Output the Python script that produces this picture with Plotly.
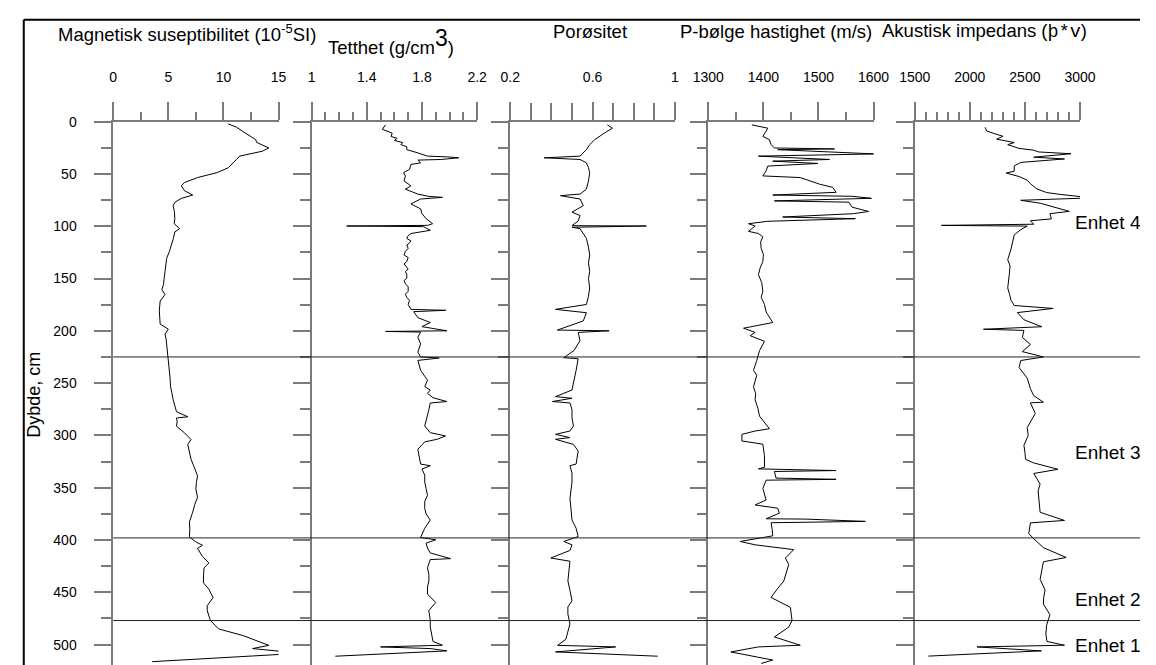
import plotly.graph_objects as go

W, H = 1156, 665

# ---------------- data (depth in cm, value) ----------------
mag_depth = [2.2, 5.3, 9.4, 13, 17.3, 19.8, 25.2, 28.3, 33, 36.2, 44.1, 48.8, 53.5, 58.2, 61.4, 66.1, 70.2, 73.4,
             77.1, 80.3, 86, 92.9, 97.6, 102.3, 105.5, 112, 118, 124, 130.7, 137, 143.3, 150, 155.9, 160.6, 165.3,
             171.6, 176, 181, 187, 193.6, 198.4, 203.1, 208, 212.5, 218, 225.1, 234, 244, 253, 260, 266, 272,
             277.3, 282.2, 283.4, 287, 291.2, 297.6, 303.9, 308.6, 315, 322.8, 329, 335.6, 338.7, 345, 351.4,
             359.2, 366, 373.4, 382.9, 390, 397, 401.8, 405, 408, 415.6, 422, 426.6, 433, 440.8, 447.1, 455,
             462.8, 467.6, 477, 485, 491.3, 500.7, 503.8, 507, 509.2, 516.3]
mag_val = [10.44, 11.18, 11.76, 12.3, 12.94, 13.0, 14.12, 13.53, 11.47, 11.18, 10.44, 9.41, 7.65, 6.47, 6.18, 6.47,
           7.21, 6.18, 5.59, 5.44, 5.55, 5.59, 5.53, 6.03, 5.59, 5.45, 5.29, 5.1, 4.85, 4.8, 4.7, 4.62, 4.56, 4.41,
           4.7, 4.26, 4.2, 4.18, 4.22, 4.26, 5.0, 4.7, 4.8, 4.85, 4.9, 5.0, 5.05, 5.15, 5.2, 5.3, 5.44, 5.6,
           5.74, 6.76, 5.74, 5.8, 5.74, 6.47, 7.06, 6.76, 6.9, 7.06, 7.3, 7.5, 7.65, 7.55, 7.5, 7.65, 7.4, 7.21,
           6.91, 6.95, 6.91, 7.5, 8.09, 7.65, 8.09, 8.68, 8.24, 8.2, 8.18, 8.68, 9.06, 8.53, 8.53, 8.82, 9.56,
           11.76, 14.12, 12.65, 15.74, 15.44, 3.53]

den_depth = [3.1, 7.3, 11, 14.2, 16, 18, 20, 22, 24, 26.8, 29.9, 33, 33.7, 34.6, 36.2, 36.8, 39.4, 41, 45.7, 48.8,
             52, 56.7, 61.4, 64.6, 69.3, 71.5, 72.4, 74, 78.7, 83.4, 88, 92.8, 97.6, 99.2, 99.8, 100.4, 103.9, 107,
             109, 111.7, 114, 116, 118, 121.2, 124, 127.5, 130, 133.8, 136, 138, 141, 143.3, 146, 149.6, 152, 155,
             158, 162.2, 165, 168, 171, 174.8, 179.5, 180.4, 181.7, 187.4,
             192.1, 196, 200, 200.6, 201.2, 206.2, 212.5, 220.4, 225, 226, 228.3, 237.8, 247.2, 253.4, 256.6, 259.7,
             264, 267.6, 269, 275.3, 281.6, 291, 297.4, 300.5, 303.7, 306.2, 313.2, 319.5, 327.4, 329, 332.1, 338,
             344.7, 351, 357.3, 363, 369.9, 375, 380.9, 388.8, 397.6, 399.8, 403, 407.7, 412.4, 417.8, 418.7,
             426.6, 433, 439.2, 445, 451.8, 459.7, 467.5, 477, 483, 489.6, 497, 500.6, 502.2, 503.8, 506, 511.1]
den_val = [1.536, 1.513, 1.584, 1.576, 1.62, 1.60, 1.66, 1.647, 1.69, 1.69, 1.77, 1.84, 1.983, 2.066, 1.94, 1.77,
           1.79, 1.72, 1.71, 1.666, 1.68, 1.67, 1.72, 1.68, 1.77, 1.85, 1.948, 1.79, 1.72, 1.79, 1.80, 1.83, 1.877,
           1.84, 1.254, 1.81, 1.86, 1.72,
           1.70, 1.69, 1.72, 1.71, 1.69, 1.70, 1.68, 1.67, 1.70, 1.69, 1.67, 1.68, 1.70, 1.68, 1.69, 1.69, 1.67,
           1.68, 1.70, 1.70, 1.68, 1.69, 1.71, 1.70,
           1.72, 1.972, 1.74, 1.77, 1.86, 1.80, 1.98, 1.536, 1.79, 1.77, 1.79, 1.77, 1.79, 1.925, 1.77, 1.79, 1.84,
           1.82, 1.86, 1.84, 1.88, 1.98, 1.86, 1.85, 1.84, 1.82, 1.86, 1.97, 1.91, 1.82, 1.77, 1.78, 1.79, 1.86,
           1.80, 1.82, 1.82, 1.83, 1.84, 1.82, 1.82, 1.83, 1.86, 1.82, 1.79, 1.90, 1.83, 1.84, 1.86, 2.007, 1.86,
           1.84, 1.85, 1.85, 1.84, 1.84, 1.90, 1.85, 1.86, 1.86, 1.87, 1.88, 1.948, 1.50, 1.86, 1.98, 1.172]

por_depth = [3.1, 6.3, 11, 14.2, 17.3, 22, 26.8, 33, 34.6, 36.2, 39.4, 44, 48.8, 56.7, 64.6, 69.3, 70.8, 74, 80.3,
             86.6, 89.8, 95, 99.5, 99.8, 101, 102.3, 111.7, 120, 127.5, 135, 143.3, 150, 159, 167, 174.8, 179.5,
             182.7, 190.5, 199.3, 200, 201.5, 209.4, 218.8, 225.7, 226.7, 237.8, 247, 256.6, 262.9, 264.5, 267.6,
             269, 275.3, 283, 291, 295.8, 299, 302.1, 303.7, 308.6, 314.9, 321, 327.4, 329, 336, 344.7, 352, 360.4,
             370, 380.9, 388.8, 396.7, 401.4, 404.6, 410, 417.2, 420.3, 430, 439.2, 448, 458.1, 464, 470.7, 480.2,
             489.6, 495, 500.7, 502.2, 507, 511.1]
por_val = [0.672, 0.696, 0.657, 0.633, 0.61, 0.586, 0.57, 0.539, 0.365, 0.539, 0.57, 0.58, 0.586, 0.58, 0.57,
           0.539, 0.444, 0.539, 0.555, 0.50, 0.539, 0.53, 0.50, 0.861, 0.50, 0.539, 0.57, 0.58, 0.586, 0.58, 0.586,
           0.58, 0.586, 0.58, 0.57, 0.42, 0.57, 0.555, 0.429, 0.68, 0.53, 0.539, 0.51, 0.46, 0.53, 0.52, 0.51, 0.50,
           0.42, 0.50, 0.405, 0.49, 0.50, 0.50, 0.507, 0.49, 0.42, 0.49, 0.42, 0.507, 0.53, 0.525, 0.52, 0.49,
           0.50, 0.50, 0.495, 0.49, 0.495, 0.50, 0.52, 0.53, 0.46, 0.50, 0.49, 0.397, 0.49, 0.485, 0.48, 0.49,
           0.50, 0.48, 0.48, 0.49, 0.475, 0.47, 0.43, 0.712, 0.42, 0.916]

vp_depth = [3.1, 6.3, 10, 14.2, 17.3, 22, 25.2, 26.1, 26.8, 30.9, 33, 36.2, 37.8, 40, 42.5, 47, 51.9, 53.5, 59.8,
            62.9, 67.6, 70.2, 71.4, 73.3, 75.8, 77, 81.8, 85.9, 88, 91.2, 92.8, 95.3, 97.6, 99.8, 104.9, 107, 110.2,
            115, 121.2, 127, 133.8, 140, 146.4, 154, 162.2, 168, 174.8, 182, 192.1, 197.5, 201.5, 204.7, 210, 218.9,
            228.3, 237.8, 242.5, 253.5, 260, 266, 274, 281.6, 293.6, 295.8, 299, 305.3, 308.4, 319.5, 330.5, 332,
            333.6, 334.5, 340.8, 342, 342.8, 350.7, 361.7, 366.5, 369.6, 374.3, 379.7, 380, 382.2, 383.5, 390, 396,
            401.4, 404.6, 409.2, 417.2, 423.5, 431, 439.2, 447, 454.9, 464.4, 477, 483.3, 492.7, 500.6, 502.2, 507,
            511.7, 514.8, 518]
vp_val = [1379, 1408, 1404, 1399, 1411, 1414, 1420, 1529, 1426, 1602, 1391, 1520, 1417, 1499, 1408, 1405, 1399,
          1467, 1502, 1526, 1532, 1417, 1561, 1596, 1420, 1555, 1561, 1591, 1564, 1435, 1567, 1408, 1373, 1385,
          1373, 1391, 1399, 1395, 1396, 1400, 1399, 1394, 1391, 1397, 1399, 1396, 1402, 1405, 1417, 1364, 1385,
          1376, 1402, 1393, 1388, 1382, 1388, 1382, 1386, 1385, 1390, 1393, 1411, 1385, 1361, 1361, 1399, 1402,
          1402, 1391, 1532, 1420, 1423, 1532, 1405, 1399, 1405, 1385, 1426, 1429, 1405, 1476, 1585, 1414, 1416,
          1417, 1358, 1385, 1455, 1440, 1446, 1442, 1437, 1425, 1414, 1449, 1452, 1446, 1420, 1467, 1391, 1341,
          1385, 1417, 1396]

imp_depth = [5.4, 9, 11.6, 14, 16.8, 20, 22, 25.6, 27.3, 29, 30.7, 34, 35.7, 39, 42.4, 47.4, 49.1, 52.5, 56, 59.4,
             64.4, 67.8, 69.5, 72.9, 75.2, 78, 85.8, 88, 93, 94.8, 98.1, 99.2, 99.9, 103.3, 108.3, 115, 121.8, 132,
             138, 145.5, 152, 159, 165, 170.8, 175.8, 178.6, 182.6, 189.4, 196.1, 198.5, 199.6, 206.3, 213.1, 219.9,
             225, 228.4, 235.1, 245.3, 255.4, 262, 268.2, 268.9, 279, 292.5, 300, 309.4, 316, 322.9, 326.3, 332.4,
             336.4, 346.5, 353, 360, 367, 373.5, 381.3, 383.6, 393.8, 398.8, 407.3, 416.7, 420.8, 429, 437.6,
             447.8, 455, 461.3, 471.4, 481.5, 490, 497, 500.6, 502.2, 506, 511]
imp_val = [2139, 2153, 2227, 2300, 2244, 2403, 2344, 2447, 2580, 2624, 2918, 2580, 2859, 2462, 2403, 2403, 2330,
           2447, 2521, 2550, 2609, 2697, 2815, 3109, 2462, 2638, 2903, 2727, 2741, 2550, 2580, 1742, 2521, 2462,
           2403, 2390, 2374, 2344, 2365, 2359, 2350, 2344, 2360, 2374, 2403, 2756, 2432, 2491, 2653, 2124, 2491,
           2477, 2550, 2477, 2668, 2462, 2447, 2521, 2550, 2580, 2668, 2550, 2594, 2521, 2530, 2491, 2500, 2506,
           2580, 2800, 2580, 2638, 2620, 2624, 2630, 2638, 2859, 2550, 2535, 2580, 2668, 2874, 2668, 2650, 2638,
           2683, 2670, 2668, 2727, 2697, 2690, 2700, 2859, 2065, 2650, 1624]

unit_bounds = [225, 398, 477]
unit_labels = ["Enhet 4", "Enhet 3", "Enhet 2", "Enhet 1"]
unit_label_depth = [96, 316, 457, 501]

titles = ["Magnetisk suseptibilitet (10<sup>-5</sup>SI)",
          "Tetthet (g/cm<sup><span style='font-size:23px'>3</span></sup>)",
          "Porøsitet",
          "P-bølge hastighet (m/s)",
          "Akustisk impedans (<span style='font-family:Liberation Mono'>þ*v</span>)"]

# ---------------- layout geometry (pixels) ----------------
top_px = 115
ymax = 519.5
panels = [
    dict(px=(100, 270), rng=[0, 15], tv=[0, 5, 10, 15], mtv=[2.5, 7.5, 12.5], mlen=8,
         d=mag_depth, v=mag_val, tx=176, ty=25),
    dict(px=(304, 474.3), rng=[1, 2.2], tv=[1, 1.4, 1.8, 2.2],
         mtv=[1.1, 1.2, 1.3, 1.5, 1.6, 1.7, 1.9, 2.0, 2.1], mlen=8, d=den_depth, v=den_val, tx=386, ty=34),
    dict(px=(508.3, 677.7), rng=[0.2, 1.0], tv=[0.2, 0.6, 1.0],
         mtv=[0.3, 0.4, 0.5, 0.7, 0.8, 0.9], mlen=17, d=por_depth, v=por_val, tx=590, ty=24),
    dict(px=(712, 882), rng=[1300, 1600], tv=[1300, 1400, 1500, 1600], mtv=[1350, 1450, 1550], mlen=8,
         d=vp_depth, v=vp_val, tx=782, ty=24),
    dict(px=(924.3, 1094.3), rng=[1500, 3000], tv=[1500, 2000, 2500, 3000],
         mtv=[1600, 1700, 1800, 1900, 2100, 2200, 2300, 2400, 2600, 2700, 2800, 2900], mlen=8,
         d=imp_depth, v=imp_val, tx=996, ty=24),
]

AX = "#7a7a7a"
FONT = "Liberation Sans, Arial, sans-serif"
fig = go.Figure()
layout = dict(width=W, height=H, margin=dict(l=0, r=0, t=0, b=0), paper_bgcolor="white",
              plot_bgcolor="white", showlegend=False, font=dict(family=FONT, color="black"))
ydom = [0, (H - top_px) / H]
annotations = []
for i, p in enumerate(panels):
    n = "" if i == 0 else str(i + 1)
    fig.add_trace(go.Scatter(x=p["v"], y=p["d"], mode="lines", line=dict(color="black", width=1),
                             xaxis="x" + n, yaxis="y" + n, hoverinfo="skip"))
    layout["xaxis" + n] = dict(domain=[p["px"][0] / W, p["px"][1] / W], range=p["rng"], side="top",
                               anchor="y" + n, showline=True, linecolor=AX, linewidth=1.5, showgrid=False,
                               zeroline=False, ticks="outside", ticklen=18, tickwidth=1.5, tickcolor=AX,
                               tickmode="array", tickvals=p["tv"], tickfont=dict(size=14, family=FONT),
                               ticklabelstandoff=14,
                               minor=dict(tickmode="array", tickvals=p["mtv"], ticks="outside",
                                          ticklen=p["mlen"], tickwidth=1.5, tickcolor=AX, showgrid=False))
    layout["yaxis" + n] = dict(domain=ydom, range=[ymax, 0], anchor="x" + n, showline=True, linecolor=AX,
                               linewidth=1.5, showgrid=False, zeroline=False, ticks="outside", ticklen=17,
                               tickwidth=1.5, tickcolor=AX, tickmode="linear", tick0=0, dtick=50,
                               showticklabels=(i == 0), tickfont=dict(size=14, family=FONT),
                               ticklabelstandoff=15,
                               minor=dict(tickmode="linear", tick0=25, dtick=50, ticks="outside", ticklen=10,
                                          tickwidth=1.5, tickcolor=AX, showgrid=False))
    annotations.append(dict(text=titles[i], x=p["tx"] / W, y=1 - p["ty"] / H, xref="paper", yref="paper",
                            showarrow=False, xanchor="center", yanchor="middle",
                            font=dict(size=18.5, family=FONT, color="black")))

for lab, dep in zip(unit_labels, unit_label_depth):
    annotations.append(dict(text=lab, x=1087 / W, y=dep, xref="paper", yref="y", showarrow=False,
                            xanchor="left", yanchor="middle", font=dict(size=19, family=FONT, color="black")))

annotations.append(dict(text="Dybde, cm", x=19 / W, y=1 - 391 / H, xref="paper", yref="paper",
                        showarrow=False, textangle=-90, xanchor="center", yanchor="middle",
                        font=dict(size=18, family=FONT, color="black")))

shapes = []
for b in unit_bounds:
    shapes.append(dict(type="line", xref="paper", yref="y", x0=100 / W, x1=1, y0=b, y1=b,
                       line=dict(color="#222222", width=1)))
# outer frame
shapes.append(dict(type="line", xref="paper", yref="paper", x0=8 / W, x1=1, y0=1 - 12 / H, y1=1 - 12 / H,
                   line=dict(color="black", width=2)))
shapes.append(dict(type="line", xref="paper", yref="paper", x0=8 / W, x1=8 / W, y0=0, y1=1 - 12 / H,
                   line=dict(color="black", width=2)))

layout["annotations"] = annotations
layout["shapes"] = shapes
fig.update_layout(**layout)
fig.write_html("out.html")
